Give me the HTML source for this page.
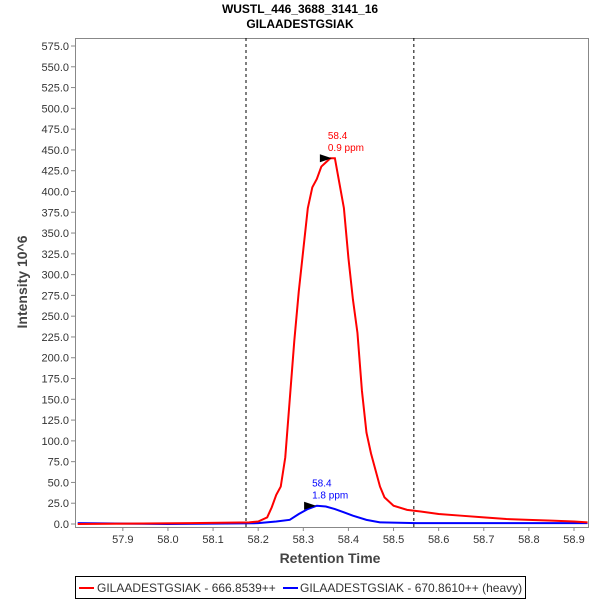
<!DOCTYPE html>
<html><head><meta charset="utf-8"><style>
body{margin:0;background:#fff;font-family:"Liberation Sans",sans-serif}
</style></head><body>
<svg width="600" height="600" id="c" xmlns="http://www.w3.org/2000/svg" font-family="Liberation Sans, sans-serif">
<rect width="600" height="600" fill="#fff"/>
<text x="300" y="13" text-anchor="middle" font-weight="bold" font-size="12">WUSTL_446_3688_3141_16</text>
<text x="300" y="28" text-anchor="middle" font-weight="bold" font-size="12">GILAADESTGSIAK</text>
<g id="g"></g>
<text x="330" y="563" text-anchor="middle" font-weight="bold" font-size="14" fill="#444">Retention Time</text>
<text transform="translate(27,282) rotate(-90)" text-anchor="middle" font-weight="bold" font-size="14" fill="#444">Intensity 10^6</text>
<g>
<rect x="75.5" y="576.5" width="450" height="22" fill="#fff" stroke="#000"/>
<line x1="79" y1="588" x2="94" y2="588" stroke="#f00" stroke-width="2"/>
<text x="97" y="592" font-size="12" fill="#333">GILAADESTGSIAK - 666.8539++</text>
<line x1="283" y1="588" x2="298" y2="588" stroke="#00f" stroke-width="2"/>
<text x="300" y="592" font-size="12" fill="#333">GILAADESTGSIAK - 670.8610++ (heavy)</text>
</g>
</svg>
<script>
const yTicks=[0,25,50,75,100,125,150,175,200,225,250,275,300,325,350,375,400,425,450,475,500,525,550,575];
const xTicks=[57.9,58.0,58.1,58.2,58.3,58.4,58.5,58.6,58.7,58.8,58.9];
const redX=[57.8,58.05,58.18,58.2,58.22,58.23,58.24,58.25,58.26,58.27,58.28,58.29,58.30,58.31,58.32,58.33,58.34,58.35,58.36,58.37,58.38,58.39,58.40,58.41,58.42,58.43,58.44,58.45,58.46,58.47,58.48,58.5,58.53,58.56,58.6,58.65,58.7,58.75,58.8,58.85,58.9,58.93];
const redY=[0,1,2,3,8,20,35,45,80,150,220,280,330,380,405,415,430,435,440,440,410,380,320,270,230,160,110,85,65,45,32,22,17,15,12,10,8,6,5,4,3,2];
const blueX=[57.8,58.0,58.2,58.24,58.27,58.29,58.31,58.33,58.35,58.37,58.39,58.41,58.44,58.47,58.55,58.93];
const blueY=[1,0,1,3,5,12,18,22,21,18,14,10,5,2,1,1];
const dashX=[58.173,58.545];
const peaks=[{x:58.37,y:440,c:"#f00",t1:"58.4",t2:"0.9 ppm"},{x:58.335,y:22,c:"#00f",t1:"58.4",t2:"1.8 ppm"}];
const L=75,R=588,T=38,B=527,X0=57.794,X1=58.931;
const sx=v=>L+(v-X0)/(X1-X0)*(R-L);
const sy=v=>524-v*(478/575);
const g=document.getElementById('g');
const NS="http://www.w3.org/2000/svg";
function mk(t,a){const e=document.createElementNS(NS,t);for(const k in a)e.setAttribute(k,a[k]);g.appendChild(e);return e;}
let e=mk('rect',{x:L+.5,y:T+.5,width:R-L,height:B-T,fill:'#fff',stroke:'#888'});


yTicks.forEach(v=>{mk('line',{x1:L-4,x2:L,y1:sy(v),y2:sy(v),stroke:'#888'});
const t=mk('text',{x:L-6,y:sy(v)+4,'text-anchor':'end','font-size':11,fill:'#333'});t.textContent=v.toFixed(1);

});
xTicks.forEach(v=>{mk('line',{x1:sx(v),x2:sx(v),y1:B,y2:B+4,stroke:'#888'});
const t=mk('text',{x:sx(v),y:B+16,'text-anchor':'middle','font-size':11,fill:'#333'});t.textContent=v.toFixed(1);

});
dashX.forEach(v=>{const l=mk('line',{x1:sx(v),x2:sx(v),y1:T,y2:B,stroke:'#000','stroke-dasharray':'3,3'});

});
function line(xs,ys,c,n){const p=mk('polyline',{points:xs.map((x,i)=>sx(x)+','+sy(ys[i])).join(' '),fill:'none',stroke:c,'stroke-width':2});

}
line(blueX,blueY,'#00f','heavy-series-line');
line(redX,redY,'#f00','light-series-line');
peaks.forEach(p=>{const x=sx(p.x),y=sy(p.y);
const a=mk('polygon',{points:`${x-15},${y-4} ${x-15},${y+4} ${x-3},${y}`,fill:'#000'});


const t1=mk('text',{x:x-7,y:y-19,'font-size':10,fill:p.c});t1.textContent=p.t1;


const t2=mk('text',{x:x-7,y:y-7,'font-size':10,fill:p.c});t2.textContent=p.t2;

});
</script>
</body></html>
